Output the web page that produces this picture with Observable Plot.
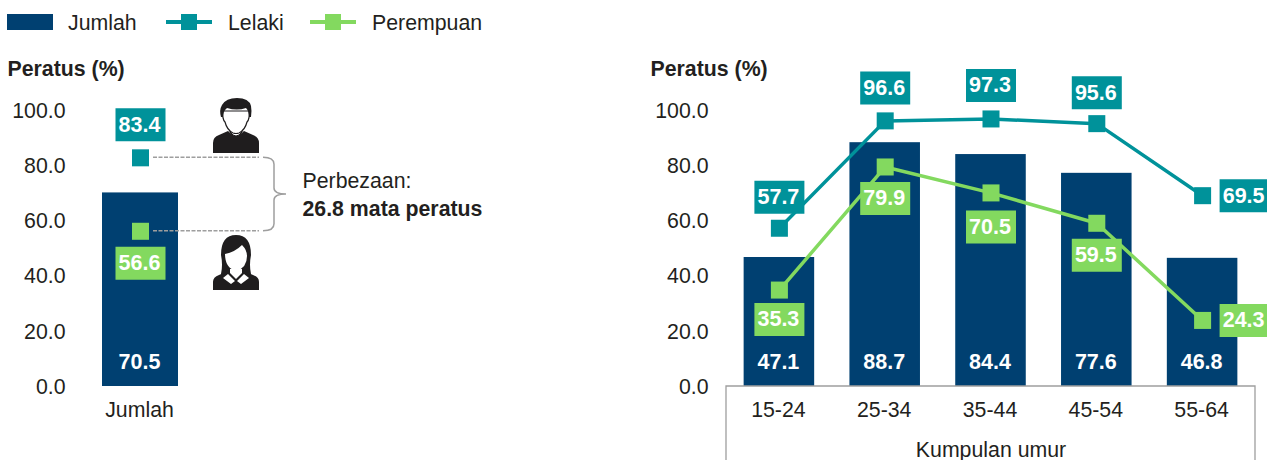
<!DOCTYPE html>
<html>
<head>
<meta charset="utf-8">
<script src="https://cdn.jsdelivr.net/npm/d3@7"></script>
<script src="https://cdn.jsdelivr.net/npm/@observablehq/plot@0.6"></script>
<style>
  html, body { margin: 0; padding: 0; background: #fff; overflow: hidden; }
  body { width: 1267px; height: 460px; font-family: "Liberation Sans", Arial, sans-serif; color: #231F20; }
  #legend { position: relative; height: 46px; font-size: 21.3px; }
  #legend span { position: absolute; top: 11px; line-height: 24px; white-space: nowrap; }
  #legend i { position: absolute; display: block; }
  #charts { display: flex; }
  #charts svg { display: block; overflow: visible; }
</style>
</head>
<body>
<div id="legend"></div>
<div id="charts"></div>
<script>
// ---- data ----
const totalCategory = ["Jumlah"];
const totalValue = [70.5];
const totalMale = [83.4];
const totalFemale = [56.6];
const ageGroups = ["15-24", "25-34", "35-44", "45-54", "55-64"];
const ageTotal = [47.1, 88.7, 84.4, 77.6, 46.8];
const ageMale = [57.7, 96.6, 97.3, 95.6, 69.5];
const ageFemale = [35.3, 79.9, 70.5, 59.5, 24.3];
const legendNames = ["Jumlah", "Lelaki", "Perempuan"];
const yTicks = [0, 20, 40, 60, 80, 100];
const yLabel = "Peratus (%)";
const xLabel = "Kumpulan umur";
const noteLines = ["Perbezaan:", "26.8 mata peratus"];

// ---- style ----
const NAVY = "#004071", TEAL = "#00929A", GREEN = "#83D95F", INK = "#231F20", GREY = "#9E9E9E";
const FONT = "Liberation Sans, Arial, sans-serif";
const FS = 21.3;

// ---- legend ----
const legend = document.getElementById("legend");
legend.innerHTML = `
  <i style="left:7px;top:14px;width:46px;height:16px;background:${NAVY}"></i>
  <span style="left:68px">${legendNames[0]}</span>
  <i style="left:166px;top:20px;width:46px;height:4px;background:${TEAL}"></i>
  <i style="left:181px;top:14px;width:16px;height:16px;background:${TEAL}"></i>
  <span style="left:228px">${legendNames[1]}</span>
  <i style="left:310px;top:20px;width:46px;height:4px;background:${GREEN}"></i>
  <i style="left:325px;top:14px;width:16px;height:16px;background:${GREEN}"></i>
  <span style="left:372px">${legendNames[2]}</span>`;

// ---- shared helpers ----
const boxSymbol = { draw(c) { c.rect(-25, -16.5, 50, 33); } };
const MARKER_R = 9.6;

function labelledPoint(x, value, color, dx, dy) {
  return [
    Plot.dot([{ x, value }], { x: "x", y: "value", symbol: boxSymbol, r: 5, fill: color, dx, dy }),
    Plot.text([{ x, value }], {
      x: "x", y: "value", text: d => d.value.toFixed(1), fill: "#fff", fontWeight: "bold",
      fontSize: 21.5, dx: dx - 1, dy, lineAnchor: "middle"
    })
  ];
}

function baseOptions(width, marginLeft, marginRight, domain) {
  return {
    width, height: 414, marginTop: 65, marginBottom: 73, marginLeft, marginRight,
    style: { fontFamily: FONT, fontSize: FS + "px", color: INK, background: "transparent", overflow: "visible" },
    x: { domain, paddingInner: 1 / 3, paddingOuter: 1 / 6, round: false, axis: null, label: null },
    y: { domain: [0, 100], axis: null, label: null }
  };
}

function commonMarks(tickPadding) {
  return [
    Plot.axisY({ ticks: yTicks, tickFormat: d3.format(".1f"), tickSize: 0, tickPadding, label: null, fontSize: FS, dy: -0.5 }),
    Plot.text([yLabel], {
      frameAnchor: "top-left", dx: -76, dy: -42, textAnchor: "start", lineAnchor: "middle",
      fontWeight: "bold", fontSize: 21.3, fill: INK
    })
  ];
}

function barMarks(cats, vals) {
  const rows = cats.map((c, i) => ({ c, v: vals[i] }));
  return [
    Plot.barY(rows, { x: "c", y: "v", fill: NAVY, insetBottom: 1 }),
    Plot.text(rows, {
      x: "c", y: () => 0, text: d => d.v.toFixed(1), fill: "#fff", fontWeight: "bold",
      fontSize: 21.5, dx: -1, dy: -25, lineAnchor: "middle"
    })
  ];
}

function pathMark(d, attrs, tx = 0, ty = 0) {
  const p = d3.create("svg:path").attr("d", d).attr("transform", `translate(${tx},${ty})`);
  for (const k in attrs) p.attr(k, attrs[k]);
  return p.node();
}

// ---- icons & annotation (left panel), coordinates in SVG pixels ----
function maleIcon() {
  const g = d3.create("svg:g").attr("transform", "translate(213,52)");
  g.append("path").attr("fill", "#1f1d1e").attr("d", "M0 55V45Q0 39 6 37L15 33Q23 41 31 33L40 37Q46 39 46 45V55Z");
  g.append("path").attr("fill", "#fff").attr("stroke", "#1f1d1e").attr("stroke-width", 1)
    .attr("d", "M17 29V34Q23 42 29 34V29Z");
  g.append("path").attr("fill", "#fff").attr("stroke", "#1f1d1e").attr("stroke-width", 1.2)
    .attr("d", "M10 13Q9 21 12 24Q14 32 20 35Q23 36 26 35Q32 32 34 24Q37 21 36 13Z");
  g.append("path").attr("fill", "#1f1d1e")
    .attr("d", "M8 19Q6 12 9 7Q13 0 24 0Q36 0 38 8Q39 13 38 19L36 19Q36 13 33 10Q24 13 14 10Q10 13 10 19Z");
  return g.node();
}
function femaleIcon() {
  const g = d3.create("svg:g").attr("transform", "translate(213,189)");
  g.append("path").attr("fill", "#1f1d1e").attr("d", "M0 55V47Q0 42 6 40L15 36H31L40 40Q46 42 46 47V55Z");
  g.append("path").attr("fill", "#1f1d1e").attr("d", "M8 39Q10 30 8 20Q8 0 23 0Q38 0 38 20Q36 30 38 39L30 41H16Z");
  g.append("path").attr("fill", "#fff").attr("d", "M12 19Q22 17 29 10Q34 15 34 21Q34 33 23 36Q12 33 12 19Z");
  g.append("path").attr("fill", "#fff").attr("d", "M17 34H29V38L23 44L17 38Z");
  g.append("path").attr("fill", "#fff").attr("d", "M15 39L22 46L18 49L10 43Z M31 39L24 46L28 49L36 43Z");
  return g.node();
}
function bracketMark(index, { y }) {
  const top = y(totalMale[0]) + 0.5, bot = y(totalFemale[0]), mid = (top + bot) / 2;
  const g = d3.create("svg:g").attr("fill", "none").attr("stroke", GREY);
  g.append("path").attr("stroke-width", 1.5).attr("stroke-dasharray", "4 1.5")
    .attr("d", `M153 ${top}H259M153 ${bot}H259`);
  g.append("path").attr("stroke-width", 1.5)
    .attr("d", `M263 ${top}Q274 ${top} 274 ${top + 7}V${mid - 6}Q274 ${mid} 286 ${mid}Q274 ${mid} 274 ${mid + 6}V${bot - 7}Q274 ${bot} 263 ${bot}`);
  return g.node();
}

// ---- left panel ----
const left = Plot.plot({
  ...baseOptions(640, 83, 443, totalCategory),
  marks: [
    ...commonMarks(18),
    ...barMarks(totalCategory, totalValue),
    Plot.axisX({ anchor: "bottom", tickSize: 0, tickPadding: 14, fontSize: FS, label: null, dx: -1 }),
    bracketMark,
    Plot.dot([{ x: totalCategory[0], v: totalMale[0] }], { x: "x", y: "v", symbol: "square", r: MARKER_R, fill: TEAL, dy: 0.5 }),
    Plot.dot([{ x: totalCategory[0], v: totalFemale[0] }], { x: "x", y: "v", symbol: "square", r: MARKER_R, fill: GREEN }),
    ...labelledPoint(totalCategory[0], totalMale[0], TEAL, 0, -32.5),
    ...labelledPoint(totalCategory[0], totalFemale[0], GREEN, 0, 32),
    maleIcon,
    femaleIcon,
    Plot.text([noteLines[0]], { frameAnchor: "top-left", dx: 219, dy: 70, textAnchor: "start", lineAnchor: "middle", fontSize: 21.3, fill: INK }),
    Plot.text([noteLines[1]], { frameAnchor: "top-left", dx: 219, dy: 98, textAnchor: "start", lineAnchor: "middle", fontSize: 21.3, fontWeight: "bold", fill: INK })
  ]
});

// ---- right panel ----
const maleRows = ageGroups.map((c, i) => ({ c, v: ageMale[i] }));
const femaleRows = ageGroups.map((c, i) => ({ c, v: ageFemale[i] }));
const maleOffsets = [[0, -31], [0, -33], [0, -33.5], [0, -31], [42, 0]];
const femaleOffsets = [[0, 29.5], [0, 31.5], [0, 34], [0, 32], [42, 0]];

function frameMark(index, { y }, values, dims) {
  const y0 = y(0) - 1, l = dims.marginLeft, r = dims.width - dims.marginRight, b = dims.height;
  return pathMark(`M${l} ${b}V${y0}H${r}V${b}`, { fill: "none", stroke: GREY, "stroke-width": 1.3 });
}

const right = Plot.plot({
  ...baseOptions(627, 86, 12, ageGroups),
  marks: [
    ...commonMarks(18),
    ...barMarks(ageGroups, ageTotal),
    frameMark,
    Plot.axisX({ anchor: "bottom", tickSize: 0, tickPadding: 14, fontSize: FS, label: null, dx: -1 }),
    Plot.text([xLabel], { frameAnchor: "bottom", dy: 63, lineAnchor: "middle", fontSize: 21.3, fill: INK }),
    Plot.line(maleRows, { x: "c", y: "v", stroke: TEAL, strokeWidth: 3.5 }),
    Plot.line(femaleRows, { x: "c", y: "v", stroke: GREEN, strokeWidth: 3.5 }),
    Plot.dot(maleRows, { x: "c", y: "v", symbol: "square", r: MARKER_R, fill: TEAL }),
    Plot.dot(femaleRows, { x: "c", y: "v", symbol: "square", r: MARKER_R, fill: GREEN }),
    ...maleRows.flatMap((d, i) => labelledPoint(d.c, d.v, TEAL, maleOffsets[i][0], maleOffsets[i][1])),
    ...femaleRows.flatMap((d, i) => labelledPoint(d.c, d.v, GREEN, femaleOffsets[i][0], femaleOffsets[i][1]))
  ]
});

const charts = document.getElementById("charts");
charts.append(left, right);
</script>
</body>
</html>
